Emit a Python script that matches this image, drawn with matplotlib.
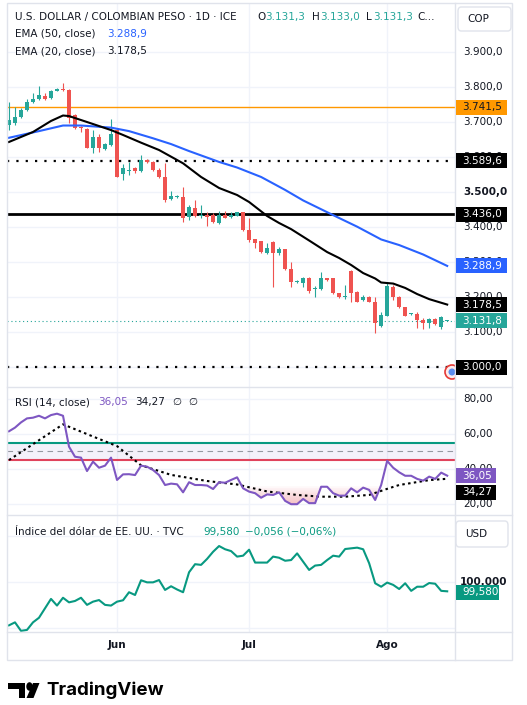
import matplotlib
matplotlib.use("Agg")
import matplotlib.pyplot as plt
import numpy as np
from matplotlib.patches import Rectangle, FancyBboxPatch, Polygon, Circle
from matplotlib.transforms import IdentityTransform

plt.rcParams['font.family'] = ['DejaVu Sans']

W, H = 527, 705

# USD/COP daily candles
opens = [3691.5, 3696.3, 3715.2, 3734.3, 3758.0, 3764.9, 3774.3, 3767.8, 3788.6, 3794.3,
         3791.5, 3720.0, 3686.6, 3680.0, 3626.6, 3658.0, 3622.9, 3634.3, 3677.2, 3550.6,
         3560.0, 3567.8, 3560.0, 3591.5, 3584.9, 3562.9, 3542.0, 3480.0, 3486.6, 3486.6,
         3429.5, 3453.5, 3432.3, 3434.3, 3434.3, 3410.6, 3434.3, 3429.5, 3432.3, 3442.1,
         3391.5, 3365.8, 3360.0, 3327.2, 3356.3, 3327.2, 3336.3, 3279.2, 3243.8, 3240.9,
         3253.5, 3222.9, 3222.0, 3253.5, 3253.5, 3210.6, 3200.9, 3275.2, 3215.2, 3191.5,
         3199.2, 3186.6, 3117.2, 3146.6, 3229.5, 3200.0, 3171.5, 3151.5, 3151.5, 3134.4,
         3124.9, 3137.2, 3113.5, 3131.3]
highs = [3757.2, 3743.7, 3740.0, 3765.7, 3782.0, 3802.9, 3782.9, 3791.5, 3797.2, 3810.6,
         3794.3, 3722.0, 3690.0, 3682.9, 3677.2, 3665.8, 3640.0, 3708.6, 3680.0, 3579.2,
         3586.6, 3572.3, 3605.8, 3594.3, 3588.6, 3568.6, 3582.9, 3502.9, 3491.5, 3515.2,
         3462.9, 3477.2, 3462.9, 3443.8, 3439.2, 3445.8, 3445.8, 3443.8, 3443.8, 3442.9,
         3425.0, 3367.2, 3361.5, 3355.2, 3360.9, 3343.8, 3338.6, 3300.9, 3248.6, 3257.2,
         3256.3, 3231.5, 3272.3, 3255.8, 3255.8, 3212.9, 3234.3, 3277.2, 3217.2, 3205.8,
         3204.3, 3201.5, 3157.2, 3240.0, 3234.3, 3202.9, 3172.9, 3155.8, 3157.2, 3140.1,
         3140.1, 3140.1, 3145.8, 3133.0]
lows = [3677.2, 3691.5, 3711.5, 3731.5, 3753.5, 3762.9, 3764.3, 3765.7, 3787.2, 3790.0,
        3696.3, 3680.0, 3672.3, 3625.8, 3611.5, 3615.2, 3620.0, 3631.5, 3541.5, 3534.3,
        3548.6, 3553.5, 3557.2, 3582.9, 3560.0, 3539.2, 3472.4, 3477.2, 3484.3, 3415.2,
        3420.0, 3429.5, 3425.0, 3402.9, 3411.5, 3408.6, 3425.0, 3426.6, 3431.5, 3388.6,
        3358.1, 3341.5, 3327.2, 3322.9, 3229.5, 3320.0, 3277.2, 3229.5, 3239.2, 3227.8,
        3212.3, 3200.9, 3220.0, 3245.8, 3208.6, 3197.2, 3194.3, 3186.6, 3184.4, 3188.6,
        3184.4, 3097.2, 3115.2, 3145.8, 3191.5, 3168.6, 3145.8, 3148.6, 3110.6, 3107.8,
        3111.5, 3120.0, 3107.8, 3131.3]
closes = [3705.8, 3715.2, 3734.3, 3758.0, 3765.7, 3777.2, 3765.7, 3788.6, 3794.3, 3790.6,
          3712.3, 3682.0, 3682.0, 3626.6, 3658.0, 3626.6, 3637.2, 3665.8, 3543.8, 3567.8,
          3562.9, 3560.0, 3591.5, 3584.9, 3562.9, 3542.0, 3477.2, 3489.5, 3488.0, 3424.9,
          3456.4, 3432.3, 3434.3, 3429.5, 3415.2, 3434.3, 3426.6, 3434.3, 3442.1, 3391.5,
          3362.9, 3355.8, 3329.5, 3339.2, 3327.2, 3338.6, 3279.2, 3243.8, 3244.9, 3253.5,
          3218.0, 3225.8, 3253.5, 3248.6, 3210.6, 3199.2, 3202.3, 3212.3, 3186.6, 3199.2,
          3186.6, 3124.9, 3148.6, 3232.3, 3200.0, 3171.5, 3147.2, 3152.9, 3134.4, 3124.9,
          3137.2, 3122.9, 3142.1, 3131.8]

# EMA lines (read at a few bars)
ema20_bar = [0, 4, 7, 9, 10, 13, 17, 19, 22, 25, 29, 32, 35, 38, 40, 43, 45, 47, 50, 53,
             55, 57, 59, 61, 62, 64, 66, 68, 70, 73]
ema20_val = [3643, 3671.5, 3703, 3718.6, 3717, 3700, 3677, 3663, 3641, 3620, 3582, 3543,
             3511.5, 3491.5, 3471.5, 3431.5, 3411.5, 3394, 3361.5, 3328.5, 3311.5, 3291.5,
             3268.5, 3253, 3241.5, 3238.5, 3226, 3208.5, 3194, 3178.5]
ema50_bar = [0, 5, 9, 12, 17, 20, 24, 27, 30, 35, 38, 42, 46, 49, 54, 58, 62, 65, 69, 73]
ema50_val = [3655, 3674, 3690, 3690, 3684, 3674, 3653.5, 3637, 3617, 3586, 3570, 3543, 3506,
             3476, 3434, 3401, 3364.5, 3348.5, 3321.5, 3288.9]

# price levels drawn on the chart
level_orange = 3741.5
level_dotted = [3589.6, 3000.0]
level_solid = 3436.0

# RSI (14) and its moving average
rsi = [61.5, 63.6, 66.6, 68.9, 69.3, 70.4, 68.9, 70.8, 71.6, 70.4,
       52.7, 46.9, 46.4, 38.7, 44.1, 40.6, 41.8, 46.4, 33.6, 36.8,
       36.9, 36.4, 41.8, 41.2, 39.3, 36.4, 30.7, 31.5, 31.1, 26.5,
       32.3, 30.7, 30.7, 30.4, 28.4, 32.3, 32.0, 33.6, 35.1, 28.8,
       26.9, 26.0, 23.4, 25.3, 25.0, 26.5, 21.6, 19.7, 19.7, 22.7,
       20.3, 20.3, 29.7, 29.7, 26.0, 24.6, 24.6, 28.8, 26.5, 29.2,
       27.9, 22.1, 30.7, 44.5, 40.6, 38.0, 36.0, 36.0, 34.2, 33.2,
       35.5, 34.2, 37.8, 36.05]
rsi_ma_bar = [0, 9, 14, 18, 22, 27, 33, 38, 43, 48, 52, 56, 60, 63, 65, 70, 73]
rsi_ma_val = [45, 65.5, 58.5, 53, 42, 36.5, 33, 31, 27, 25, 24, 24, 25, 28.5, 30.7, 33.5, 34.27]
rsi_upper, rsi_mid, rsi_lower = 55, 50, 45

# US dollar index (TVC:DXY)
dxy = [98.1, 98.23, 97.86, 97.9, 98.23, 98.43, 98.84, 99.25, 98.96, 99.3,
       99.1, 99.16, 99.3, 98.99, 99.13, 99.2, 98.99, 98.96, 99.13, 99.19,
       99.54, 99.42, 100.06, 99.97, 99.97, 100.07, 99.64, 99.8, 99.66, 99.54,
       100.41, 100.76, 100.73, 100.99, 101.3, 101.55, 101.41, 101.33, 101.09, 101.13,
       101.39, 100.83, 100.83, 100.83, 101.09, 101.04, 100.91, 100.94, 101.23, 100.87,
       100.51, 100.7, 100.73, 100.94, 101.13, 101.09, 101.42, 101.45, 101.48, 101.41,
       100.8, 99.93, 99.78, 99.96, 99.86, 99.68, 99.93, 99.6, 99.78, 99.78,
       99.94, 99.91, 99.6, 99.58]

month_bar = [18, 40, 63]
month_lab = ["Jun", "Jul", "Ago"]
price_ticks = [3100, 3200, 3300, 3400, 3500, 3600, 3700, 3800, 3900]
price_grid = [3000] + price_ticks
rsi_ticks = [20, 40, 60, 80]

GREEN = '#26a69a'
RED = '#ef5350'
BLUE = '#2962ff'
PURPLE = '#7e57c2'
TEXT = '#131722'
GRID = '#f0f3fa'
BORDER = '#e0e3eb'


def fmt(v, d):
    s = f"{v:,.{d}f}"
    return s.replace(",", "X").replace(".", ",").replace("X", ".")


def fx(x):
    return x / W


def fy(y):
    return 1 - y / H


def ypix(ax, v):
    return H - ax.transData.transform((0, v))[1]


fig = plt.figure(figsize=(W / 100, H / 100), dpi=100)
fig.patch.set_facecolor('white')

X0, X1 = 7, 455
ax_p = fig.add_axes([fx(X0), fy(387), fx(X1 - X0), (387 - 3) / H])
ax_r = fig.add_axes([fx(X0), fy(515), fx(X1 - X0), (515 - 387) / H])
ax_d = fig.add_axes([fx(X0), fy(632), fx(X1 - X0), (632 - 515) / H])

x = np.arange(len(closes))
for ax in (ax_p, ax_r, ax_d):
    ax.set_xlim(-0.33, 74.3)
    for s in ax.spines.values():
        s.set_visible(False)
    ax.set_xticks([])
    ax.set_yticks([])
    for mb in month_bar:
        ax.axvline(mb, color=GRID, lw=1, zorder=0)

# ---- price panel ----
ax_p.set_ylim(2943, 4040)
for t in price_grid:
    ax_p.axhline(t, color=GRID, lw=1, zorder=0)

o = np.array(opens)
c = np.array(closes)
col = np.where(c >= o, GREEN, RED)
ax_p.vlines(x, lows, highs, colors=col, lw=0.8, zorder=3)
ax_p.bar(x, np.maximum(np.abs(c - o), 2.5), bottom=np.minimum(o, c), width=0.66,
         color=col, lw=0, zorder=4)

ax_p.axhline(level_orange, color='#ff9800', lw=1, zorder=2)
ax_p.axhline(level_solid, color='black', lw=2, zorder=2)
for lv in level_dotted:
    ax_p.axhline(lv, color='black', lw=1.6, ls=(0, (1, 3.2)), zorder=2)
ax_p.axhline(closes[-1], color=GREEN, lw=0.8, ls=(0, (1, 2.5)), zorder=2)

ax_p.plot(ema50_bar, ema50_val, color=BLUE, lw=1.5, zorder=5)
ax_p.plot(ema20_bar, ema20_val, color='black', lw=1.5, zorder=5)

# little event icon at bottom-right of price pane
ax_p.add_patch(Circle((452, H - 372), 7, transform=IdentityTransform(), fc='#fdecec',
                      ec='#e53935', lw=1.2, zorder=6))
ax_p.add_patch(Circle((452, H - 372), 3.5, transform=IdentityTransform(), fc='#5b8def',
                      ec='none', zorder=7))

# ---- RSI panel ----
ax_r.set_ylim(13.5, 86.9)
for t in rsi_ticks:
    ax_r.axhline(t, color=GRID, lw=1, zorder=0)
ax_r.axhspan(rsi_lower, rsi_upper, color=PURPLE, alpha=0.08, lw=0, zorder=1)
ax_r.axhline(rsi_upper, color='#089981', lw=1.5, zorder=2)
ax_r.axhline(rsi_lower, color='#e0435c', lw=1.5, zorder=2)
ax_r.axhline(rsi_mid, color='#9598a1', lw=0.8, ls=(0, (5, 4)), zorder=2)
r = np.array(rsi)
for thr in np.linspace(21, 30, 10):
    ax_r.fill_between(x, r, thr, where=r < thr, interpolate=True, color='#f23645',
                      alpha=0.03, lw=0, zorder=1)
ax_r.plot(rsi_ma_bar, rsi_ma_val, color='black', lw=1.5, ls=(0, (1.2, 1.6)), zorder=3)
ax_r.plot(x, rsi, color=PURPLE, lw=1.5, zorder=4)

# ---- DXY panel ----
ax_d.set_ylim(97.81, 102.9)
for t in [98, 100, 102]:
    ax_d.axhline(t, color=GRID, lw=1, zorder=0)
ax_d.plot(x, dxy, color='#089981', lw=1.5, zorder=3)

# ---- frame and separators ----
fig.patches.append(Rectangle((fx(7), fy(660)), fx(505), (660 - 3) / H, transform=fig.transFigure,
                             fill=False, ec=BORDER, lw=1, zorder=1))
for yy in (387, 515, 632):
    fig.lines.append(plt.Line2D([fx(7), fx(512)], [fy(yy), fy(yy)], transform=fig.transFigure,
                                color=BORDER, lw=1, zorder=1))
fig.lines.append(plt.Line2D([fx(455), fx(455)], [fy(3), fy(660)], transform=fig.transFigure,
                            color=BORDER, lw=1, zorder=1))

# ---- right axis labels ----
LX = 463
for t in price_ticks:
    fig.text(fx(LX), fy(ypix(ax_p, t)), fmt(t, 1), fontsize=7.5, color=TEXT, va='center',
             fontweight='bold' if t == 3500 else 'normal', zorder=2)
for t in rsi_ticks:
    fig.text(fx(LX), fy(ypix(ax_r, t)), fmt(t, 2), fontsize=7.5, color=TEXT, va='center', zorder=2)
fig.text(fx(460), fy(ypix(ax_d, 100)), fmt(100, 3), fontsize=7.5, color=TEXT, va='center',
         fontweight='bold', zorder=2)


def tag(yc, text, fc, tc='white', x0=456, x1=507):
    fig.patches.append(Rectangle((fx(x0), fy(yc + 7.5)), fx(x1 - x0), 15 / H,
                                 transform=fig.transFigure, fc=fc, ec='none', zorder=4))
    fig.text(fx(x0 + 6), fy(yc), text, fontsize=7.5, color=tc, va='center', zorder=5)


tag(ypix(ax_p, level_orange), fmt(level_orange, 1), '#ff9800', TEXT)
for lv in level_dotted:
    tag(ypix(ax_p, lv), fmt(lv, 1), 'black')
tag(ypix(ax_p, level_solid), fmt(level_solid, 1), 'black')
tag(ypix(ax_p, ema50_val[-1]), fmt(ema50_val[-1], 1), BLUE)
tag(ypix(ax_p, ema20_val[-1]), fmt(ema20_val[-1], 1), 'black')
tag(ypix(ax_p, closes[-1]), fmt(closes[-1], 1), GREEN)
tag(ypix(ax_r, rsi[-1]), fmt(rsi[-1], 2), PURPLE, x1=496)
tag(ypix(ax_r, rsi_ma_val[-1]) + 13.5, fmt(rsi_ma_val[-1], 2), 'black', x1=496)
tag(ypix(ax_d, dxy[-1]) + 1, fmt(dxy[-1], 3), '#089981', x1=499)

# currency boxes
for (bx0, by0, bx1, by1, lab) in [(458, 7, 511, 31, "COP"), (456, 521, 508, 547, "USD")]:
    fig.patches.append(FancyBboxPatch((fx(bx0), fy(by1)), fx(bx1 - bx0), (by1 - by0) / H,
                                      boxstyle="round,pad=0,rounding_size=0.006",
                                      transform=fig.transFigure, fc='white', ec=BORDER,
                                      lw=1, zorder=4))
    fig.text(fx(bx0 + 9), fy((by0 + by1) / 2), lab, fontsize=7.5, color=TEXT, va='center', zorder=5)

# ---- x axis ----
for mb, ml in zip(month_bar, month_lab):
    xp = ax_d.transData.transform((mb, 0))[0]
    fig.text(fx(xp), fy(645), ml, fontsize=7.5, fontweight='bold', color=TEXT,
             ha='center', va='center')

# ---- legends / headers ----
hs = 7.5
fig.text(fx(15), fy(17), "U.S. DOLLAR / COLOMBIAN PESO · 1D · ICE", fontsize=hs, color=TEXT, va='center')
for xl, lab, xv, val in [(257, "O", 265, opens[-1]), (312, "H", 320, highs[-1]), (366, "L", 373, lows[-1])]:
    fig.text(fx(xl), fy(17), lab, fontsize=hs, color=TEXT, va='center')
    fig.text(fx(xv), fy(17), fmt(val, 1), fontsize=hs, color=GREEN, va='center')
fig.text(fx(417), fy(17), "C...", fontsize=hs, color=TEXT, va='center')
fig.text(fx(15), fy(34), "EMA (50, close)", fontsize=hs, color=TEXT, va='center')
fig.text(fx(107), fy(34), fmt(ema50_val[-1], 1), fontsize=hs, color=BLUE, va='center')
fig.text(fx(15), fy(51), "EMA (20, close)", fontsize=hs, color=TEXT, va='center')
fig.text(fx(107), fy(51), fmt(ema20_val[-1], 1), fontsize=hs, color=TEXT, va='center')

fig.text(fx(15), fy(402), "RSI (14, close)", fontsize=hs, color=TEXT, va='center')
fig.text(fx(98), fy(402), fmt(rsi[-1], 2), fontsize=hs, color=PURPLE, va='center')
fig.text(fx(135), fy(402), fmt(rsi_ma_val[-1], 2), fontsize=hs, color=TEXT, va='center')
fig.text(fx(172), fy(402), "∅", fontsize=hs, color=TEXT, va='center')
fig.text(fx(188), fy(402), "∅", fontsize=hs, color=TEXT, va='center')

fig.text(fx(15), fy(532), "Índice del dólar de EE. UU. · TVC", fontsize=hs, color=TEXT, va='center')
fig.text(fx(203), fy(532), fmt(dxy[-1], 3), fontsize=hs, color='#089981', va='center')
fig.text(fx(245), fy(532), "−0,056 (−0,06%)", fontsize=hs, color='#089981', va='center')

# ---- TradingView logo ----
def poly(pts, **kw):
    fig.patches.append(Polygon([(fx(a), fy(b)) for a, b in pts], closed=True,
                               transform=fig.transFigure, **kw))


poly([(8, 683), (25, 683), (25, 698), (18.5, 698), (18.5, 689), (8, 689)], fc='black', ec='none')
fig.patches.append(Circle((fx(29.5), fy(686.5)), 3.2 / W, transform=fig.transFigure, fc='black', ec='none'))
poly([(33, 683), (39.5, 683), (33.5, 698), (26.5, 698)], fc='black', ec='none')
fig.text(fx(46), fy(690.5), "TradingView", fontsize=13.5, fontweight='bold', family=['Inter', 'DejaVu Sans'],
         color='black', va='center')

fig.savefig("out.png", dpi=100)
